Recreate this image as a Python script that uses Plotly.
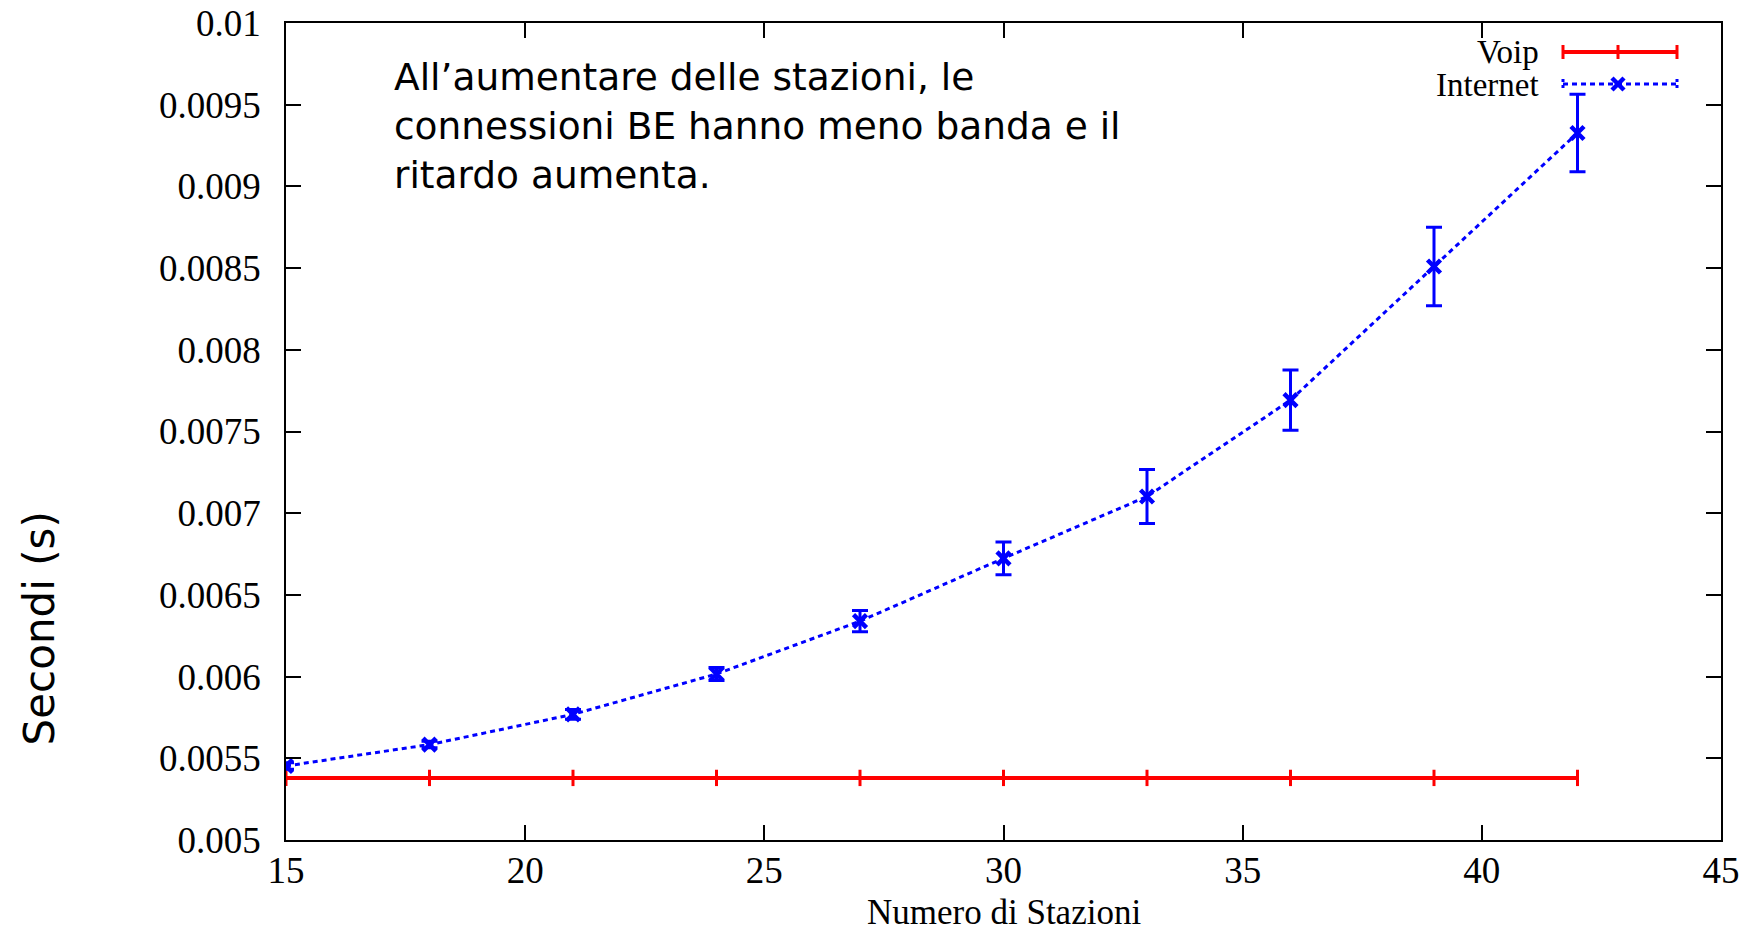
import plotly.graph_objects as go

stations = [15, 18, 21, 24, 27, 30, 33, 36, 39, 42]
voip = [0.00538] * 10
voip_err = [0.00005] * 10
internet = [0.005453, 0.005584, 0.005769, 0.006016, 0.006339, 0.006724, 0.007102, 0.007692, 0.00851, 0.009327]
internet_err = [0.00002, 0.00002, 0.00003, 0.00004, 0.000065, 0.0001, 0.000165, 0.000185, 0.00024, 0.000237]

x_ticks = [15, 20, 25, 30, 35, 40, 45]
y_ticks = [0.005, 0.0055, 0.006, 0.0065, 0.007, 0.0075, 0.008, 0.0085, 0.009, 0.0095, 0.01]
y_labels = ["0.005", "0.0055", "0.006", "0.0065", "0.007", "0.0075", "0.008", "0.0085", "0.009", "0.0095", "0.01"]

RED = "#ff0000"
BLUE = "#0000ff"

fig = go.Figure()
fig.add_trace(go.Scatter(
    x=stations, y=voip, mode="lines", name="Voip",
    line=dict(color=RED, width=4),
    error_y=dict(type="data", array=voip_err, color=RED, thickness=3, width=0),
))
fig.add_trace(go.Scatter(
    x=stations, y=internet, mode="lines+markers", name="Internet",
    line=dict(color=BLUE, width=3, dash="5px,4px"),
    marker=dict(symbol="x-thin", size=13, color=BLUE, line=dict(color=BLUE, width=4.5)),
    error_y=dict(type="data", array=internet_err, color=BLUE, thickness=3, width=8),
))

axis_common = dict(
    showline=True, linecolor="black", linewidth=1.5, mirror="allticks",
    ticks="inside", ticklen=15, tickwidth=1.5, tickcolor="black",
    showgrid=False, zeroline=False, automargin=False,
    tickfont=dict(family="Liberation Serif", size=37, color="black"),
)

fig.update_layout(
    width=1760, height=935,
    margin=dict(l=286, r=39, t=23, b=95),
    paper_bgcolor="white", plot_bgcolor="white",
    showlegend=False,
    xaxis=dict(range=[15, 45], tickvals=x_ticks, ticklabelstandoff=-3, **axis_common),
    yaxis=dict(range=[0.005, 0.01], tickvals=y_ticks, ticktext=y_labels, ticklabelstandoff=16, **axis_common),
)

# axis titles
fig.add_annotation(text="Numero di Stazioni", xref="paper", yref="paper", x=0.5, y=0,
                   yshift=-72, xanchor="center", yanchor="middle", showarrow=False,
                   font=dict(family="Liberation Serif", size=35, color="black"))
fig.add_annotation(text="Secondi (s)", xref="paper", yref="paper", x=0, xshift=-247,
                   y=0.259, xanchor="center", yanchor="middle", textangle=-90, showarrow=False,
                   font=dict(family="DejaVu Sans", size=42, color="black"))

# explanatory text
fig.add_annotation(text="All’aumentare delle stazioni, le<br>connessioni BE hanno meno banda e il<br>ritardo aumenta.",
                   xref="paper", yref="paper", x=(392 - 286) / 1435, y=1 - (53 - 23) / 817,
                   xanchor="left", yanchor="top", align="left", showarrow=False,
                   font=dict(family="DejaVu Sans", size=37.5, color="black"))

# manual legend (text right, sample on the right like gnuplot)
def px(xp):
    return (xp - 286) / 1435

def py(yp):
    return 1 - (yp - 23) / 817

fig.add_annotation(text="Voip", xref="paper", yref="paper", x=px(1540), y=py(52),
                   xanchor="right", yanchor="middle", showarrow=False, borderpad=0,
                   font=dict(family="Liberation Serif", size=33, color="black"))
fig.add_annotation(text="Internet", xref="paper", yref="paper", x=px(1540), y=py(85),
                   xanchor="right", yanchor="middle", showarrow=False, borderpad=0,
                   font=dict(family="Liberation Serif", size=33, color="black"))

fig.add_shape(type="line", xref="paper", yref="paper", x0=px(1563), x1=px(1677), y0=py(52), y1=py(52),
              line=dict(color=RED, width=4))
for xp in [1563, 1618, 1677]:
    fig.add_shape(type="line", xref="paper", yref="paper", x0=px(xp), x1=px(xp), y0=py(45), y1=py(59),
                  line=dict(color=RED, width=3))
fig.add_shape(type="line", xref="paper", yref="paper", x0=px(1563), x1=px(1677), y0=py(84), y1=py(84),
              line=dict(color=BLUE, width=3, dash="5px,4px"))
for xp in [1563, 1677]:
    fig.add_shape(type="line", xref="paper", yref="paper", x0=px(xp), x1=px(xp), y0=py(79), y1=py(90),
                  line=dict(color=BLUE, width=3, dash="3px,3px"))
fig.add_shape(type="line", xref="paper", yref="paper", x0=px(1612), x1=px(1624), y0=py(78), y1=py(90),
              line=dict(color=BLUE, width=4.5))
fig.add_shape(type="line", xref="paper", yref="paper", x0=px(1612), x1=px(1624), y0=py(90), y1=py(78),
              line=dict(color=BLUE, width=4.5))

fig.write_html("out.html")
